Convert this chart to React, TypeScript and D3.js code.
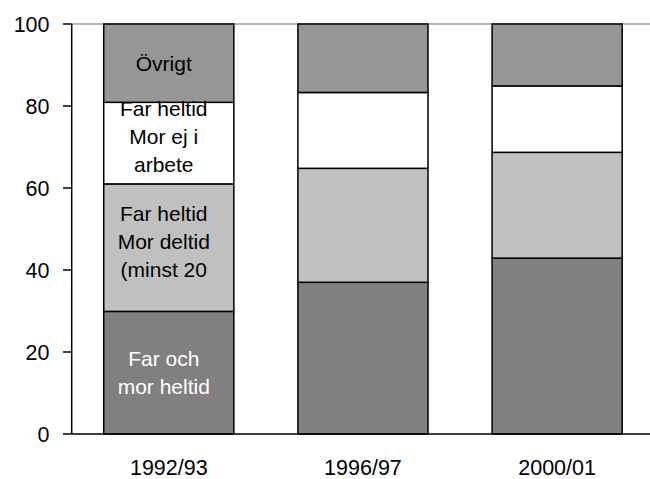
import React from "react";
import * as d3 from "d3";

const categories = ["1992/93", "1996/97", "2000/01"];
const seriesNames = ["Far och mor heltid", "Far heltid Mor deltid", "Far heltid Mor ej i arbete", "Övrigt"];
const farOchMorHeltid = [29.9, 37, 42.9];
const farHeltidMorDeltid = [31.1, 27.8, 25.8];
const farHeltidMorEjIArbete = [19.9, 18.5, 16.2];
const ovrigt = [19.1, 16.7, 15.1];
const seriesValues = [farOchMorHeltid, farHeltidMorDeltid, farHeltidMorEjIArbete, ovrigt];
const seriesColors = ["#808080", "#C0C0C0", "#FFFFFF", "#969696"];
const labelColors = ["#FFFFFF", "#000000", "#000000", "#000000"];
const labelLines = [
  ["Far och", "mor heltid"],
  ["Far heltid", "Mor deltid", "(minst 20"],
  ["Far heltid", "Mor ej i", "arbete"],
  ["Övrigt"],
];
const yTicks = [0, 20, 40, 60, 80, 100];

const W = 650;
const H = 479;
const left = 71.7;
const right = 654.2;
const top = 24;
const bottom = 434;
const font = "'Liberation Sans', Arial, sans-serif";

export default function App() {
  const x = d3.scaleBand<string>().domain(categories).range([left, right]).paddingInner(0.33).paddingOuter(0.165);
  const y = d3.scaleLinear().domain([0, 100]).range([bottom, top]);

  const table = categories.map((c, i) => {
    const row: Record<string, any> = { cat: c };
    seriesNames.forEach((s, j) => (row[s] = seriesValues[j][i]));
    return row;
  });
  const stacked = d3.stack<any>().keys(seriesNames)(table);

  const lineH = 28;
  return (
    <svg width={W} height={H} style={{ position: "absolute", left: 0, top: 0 }} fontFamily={font}>
      <rect x={0} y={0} width={W} height={H} fill="#fff" />
      <line x1={left} x2={W} y1={y(100)} y2={y(100)} stroke="#A0A0A0" strokeWidth={1.5} />
      {stacked.map((layer, j) =>
        layer.map((d, i) => (
          <rect
            key={`${j}-${i}`}
            x={x(categories[i])!}
            y={y(d[1])}
            width={x.bandwidth()}
            height={y(d[0]) - y(d[1])}
            fill={seriesColors[j]}
            stroke="#000"
            strokeWidth={1.5}
          />
        ))
      )}
      {stacked.map((layer, j) => {
        const d = layer[0];
        const cx = x(categories[0])! + x.bandwidth() / 2 - 5;
        const cy = (y(d[0]) + y(d[1])) / 2;
        const lines = labelLines[j];
        const n = lines.length;
        const k = n === 3 ? 1 : 7.5;
        return lines.map((t, i) => (
          <text
            key={`l-${j}-${i}`}
            x={cx}
            y={cy + (i - (n - 1) / 2) * lineH + k}
            textAnchor="middle"
            fontSize={21}
            fill={labelColors[j]}
          >
            {t}
          </text>
        ));
      })}
      <line x1={left} x2={left} y1={top} y2={bottom} stroke="#000" strokeWidth={1.5} />
      <line x1={left} x2={W} y1={bottom} y2={bottom} stroke="#000" strokeWidth={1.5} />
      {yTicks.map((t) => (
        <g key={t}>
          <line x1={63} x2={left} y1={y(t)} y2={y(t)} stroke="#000" strokeWidth={1.5} />
          <text x={49.5} y={y(t) + 7.6} textAnchor="end" fontSize={21.5} fill="#000">
            {t}
          </text>
        </g>
      ))}
      {categories.map((c) => (
        <text key={c} x={x(c)! + x.bandwidth() / 2} y={474.5} textAnchor="middle" fontSize={21.5} fill="#000">
          {c}
        </text>
      ))}
    </svg>
  );
}
